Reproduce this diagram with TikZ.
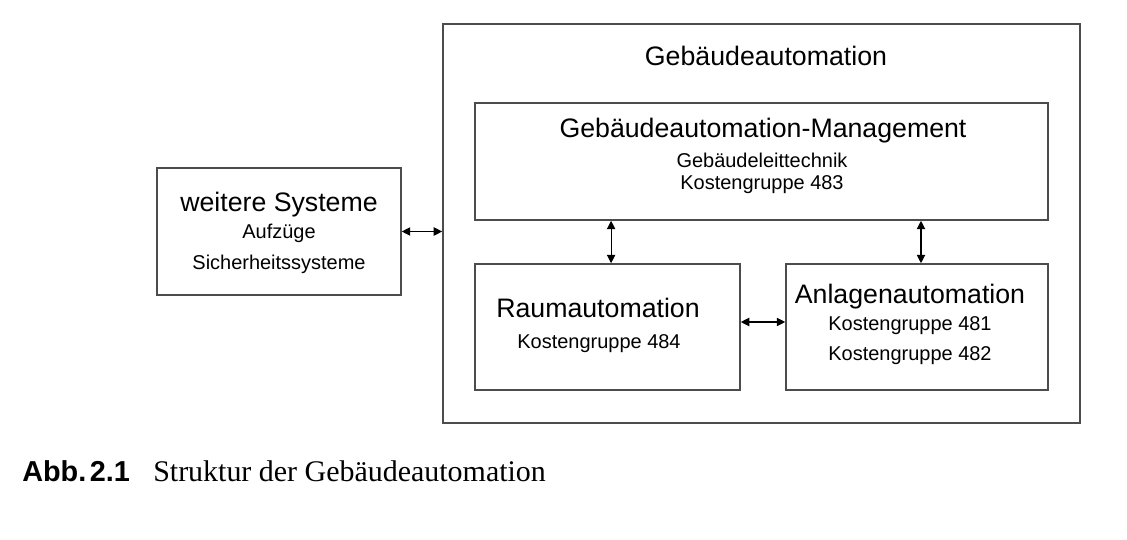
\documentclass[tikz,border=0pt]{standalone}
\usepackage{fontspec}
\setmainfont{Liberation Sans}
\newfontfamily\capserif{Liberation Serif}
\usetikzlibrary{arrows.meta}
\begin{document}
\begin{tikzpicture}[x=0.025cm,y=-0.025cm,
  box/.style={draw=black!70, line width=1.1pt, rectangle, inner sep=0pt},
  big/.style={font=\fontsize{19}{22}\selectfont, inner sep=0pt},
  small/.style={font=\fontsize{14.2}{17}\selectfont, inner sep=0pt},
  conn/.style={line width=0.8pt, {Triangle[length=6pt,width=6pt]}-{Triangle[length=6pt,width=6pt]}}]
\useasboundingbox (0,0) rectangle (1127,540);
\node[box, minimum width=15.925cm, minimum height=9.975cm] (outer) at (761.5,223.5) {};
\node[box, minimum width=14.325cm, minimum height=2.925cm] (mgmt) at (761.5,161.5) {};
\node[box, minimum width=6.625cm, minimum height=3.15cm] (raum) at (607.5,327) {};
\node[box, minimum width=6.55cm, minimum height=3.15cm] (anl) at (917,327) {};
\node[box, minimum width=6.1cm, minimum height=3.175cm] (weit) at (279,231.5) {};
% texts
\node[big] (t1) at (766,56) {Gebäudeautomation};
\node[big] (t2) at (763,131) {Gebäudeautomation-Management};
\node[small] (t3) at (762,160) {Gebäudeleittechnik};
\node[small] (t4) at (762,185) {Kostengruppe 483};
\node[big] (t5) at (279,205) {weitere Systeme};
\node[small] (t6) at (279,233) {Aufzüge};
\node[small] (t7) at (279,264) {Sicherheitssysteme};
\node[big] (t8) at (598,308) {Raumautomation};
\node[small] (t9) at (599,344) {Kostengruppe 484};
\node[big] (t10) at (910,297) {Anlagenautomation};
\node[small] (t11) at (910,326) {Kostengruppe 481};
\node[small] (t12) at (910,356) {Kostengruppe 482};
% connectors
\draw[conn] (weit.east) -- (weit.east -| outer.west);
\draw[conn] ([xshift=0.09cm]raum.north) -- ([xshift=0.09cm]raum.north |- mgmt.south);
\draw[conn] ([xshift=0.1cm]anl.north) -- ([xshift=0.1cm]anl.north |- mgmt.south);
\draw[conn] ([yshift=0.125cm]raum.east) -- ([yshift=0.125cm]raum.east -| anl.west);
% caption
\node[anchor=base west, inner sep=0pt, font=\bfseries\fontsize{20.5}{24}\selectfont] (cap1) at (22,481) {Abb.\hspace{0.12em}2.1};
\node[anchor=base west, inner sep=0pt, font=\capserif\fontsize{21.3}{25}\selectfont] (cap2) at (153,481) {Struktur der Gebäudeautomation};
\end{tikzpicture}
\end{document}
